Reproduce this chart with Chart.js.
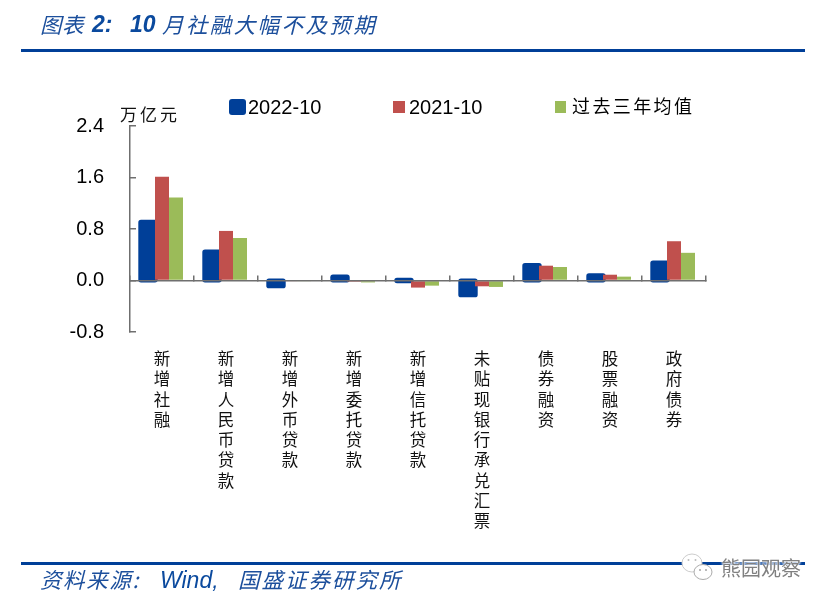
<!DOCTYPE html>
<html><head><meta charset="utf-8">
<script src="https://cdn.jsdelivr.net/npm/chart.js@4"></script>
<style>
html,body{margin:0;padding:0;background:#fff;width:826px;height:604px;overflow:hidden}
#wrap{position:relative;width:826px;height:604px}
canvas{position:absolute;left:0;top:0}
.t{position:absolute;white-space:nowrap;font-family:"Noto Sans CJK SC",sans-serif;line-height:1}
.h{font-size:21.5px;font-style:italic;color:#1C4F9C}
.n{font-family:"Liberation Sans";font-style:italic;color:#0B4A9E}
.rule{position:absolute;background:#003F98}
.sw{position:absolute}
.lg{font-family:"Liberation Sans";font-size:20px;color:#000;top:97px}
</style></head><body>
<div id="wrap">
<canvas id="c" width="826" height="604"></canvas>
<div class="t h" style="left:40px;top:13px;letter-spacing:0.5px">图表</div>
<div class="t n" style="left:92px;top:13px;font-size:23px;font-weight:bold">2:</div>
<div class="t n" style="left:130px;top:13px;font-size:23px;font-weight:bold">10</div>
<div class="t h" style="left:162px;top:13px;letter-spacing:2.4px">月社融大幅不及预期</div>
<div class="rule" style="left:21px;top:49px;width:784px;height:3px"></div>
<div class="t" style="left:120px;top:105px;font-size:17px;letter-spacing:3px;color:#111">万亿元</div>
<div class="sw" style="left:229px;top:99px;width:17px;height:16px;border-radius:3px;background:#003F98"></div>
<div class="t lg" id="l0" style="left:248px"></div>
<div class="sw" style="left:393px;top:101px;width:12px;height:12px;background:#C0504D"></div>
<div class="t lg" id="l1" style="left:409px"></div>
<div class="sw" style="left:555px;top:101px;width:11px;height:12px;background:#9BBB59"></div>
<div class="t" id="l2" style="left:572px;top:96px;font-size:18px;letter-spacing:2.4px;color:#000"></div>
<div class="rule" style="left:21px;top:562px;width:784px;height:3px"></div>
<div class="t h" style="left:40px;top:568px;letter-spacing:1.6px">资料来源:</div>
<div class="t n" style="left:160px;top:569px;font-size:23px">Wind,</div>
<div class="t h" style="left:238px;top:568px;letter-spacing:2px">国盛证券研究所</div>
<svg style="position:absolute;left:680px;top:550px" width="40" height="34" viewBox="0 0 40 34">
  <ellipse cx="12" cy="13" rx="10" ry="9" fill="#fff" stroke="#ccc"/>
  <ellipse cx="23" cy="22" rx="9" ry="7.5" fill="#fff" stroke="#aaa"/>
  <circle cx="8.5" cy="10" r="1" fill="#bbb"/><circle cx="15.5" cy="10" r="1" fill="#bbb"/>
  <circle cx="20" cy="20" r="0.9" fill="#999"/><circle cx="26" cy="20" r="0.9" fill="#999"/>
</svg>
<div class="t" style="left:721px;top:558px;font-size:20px;color:#808080;text-shadow:0 0 2px #fff,0 0 2px #fff,0 0 3px #fff">熊园观察</div>
</div>
<script>
const categories = ['新增社融','新增人民币贷款','新增外币贷款','新增委托贷款','新增信托贷款','未贴现银行承兑汇票','债券融资','股票融资','政府债券'];
const seriesNames = ['2022-10','2021-10','过去三年均值'];
const values2022 = [0.90,0.44,-0.08,0.05,0.00,-0.22,0.23,0.07,0.27];
const values2021 = [1.61,0.77,-0.01,-0.02,-0.11,-0.09,0.23,0.09,0.61];
const valuesAvg  = [1.29,0.66,-0.01,-0.03,-0.08,-0.10,0.21,0.06,0.43];
const yTicks = [-0.8,0,0.8,1.6,2.4];
const colors = ['#003F98','#C0504D','#9BBB59'];

seriesNames.forEach((n,i)=>document.getElementById('l'+i).textContent=n);

const outlineBlue = {
  id:'outlineBlue',
  beforeDatasetsDraw(chart){
    const ctx=chart.ctx; ctx.save();
    ctx.strokeStyle=colors[0]; ctx.lineWidth=5.4; ctx.lineJoin='round';
    chart.getDatasetMeta(0).data.forEach(el=>{
      const p=el.getProps(['x','y','base','width'],true);
      ctx.strokeRect(p.x-p.width/2,Math.min(p.y,p.base),p.width,Math.abs(p.base-p.y));
    });
    ctx.restore();
  }
};
new Chart(document.getElementById('c'),{
  type:'bar',
  plugins:[outlineBlue],
  data:{
    labels:categories.map(s=>Array.from(s)),
    datasets:[
      {label:seriesNames[0],data:values2022,backgroundColor:colors[0]},
      {label:seriesNames[1],data:values2021,backgroundColor:colors[1]},
      {label:seriesNames[2],data:valuesAvg,backgroundColor:colors[2]}
    ]
  },
  options:{
    responsive:false,animation:false,devicePixelRatio:1,
    layout:{padding:{left:0,top:126,right:120,bottom:272}},
    plugins:{legend:{display:false},tooltip:{enabled:false}},
    scales:{
      x:{
        position:{y:0},
        offset:true,
        afterFit(s){s.height=0;},
        border:{color:'#6f6f6f',width:1.5,z:1},
        grid:{drawOnChartArea:false,drawTicks:true,tickLength:-6,color:'#6f6f6f',lineWidth:1.5,offset:true,z:1},
        ticks:{autoSkip:false,maxRotation:0,minRotation:0,padding:74,color:'#111',
          font:{family:'"Noto Sans CJK SC"',size:16.5,lineHeight:1.23}}
      },
      y:{
        position:'left',
        min:-0.8,max:2.4,
        afterFit(s){s.width=130;},
        afterBuildTicks(s){s.ticks=yTicks.map(v=>({value:v}));},
        border:{color:'#6f6f6f',width:1.5},
        grid:{drawOnChartArea:false,drawTicks:true,tickLength:-6,color:'#6f6f6f',lineWidth:1.5},
        ticks:{padding:32,color:'#000',font:{family:'"Liberation Sans"',size:20},callback:v=>Number(v).toFixed(1)}
      }
    },
    datasets:{bar:{barPercentage:1,categoryPercentage:0.656,borderWidth:0}}
  }
});
</script>
</body></html>
